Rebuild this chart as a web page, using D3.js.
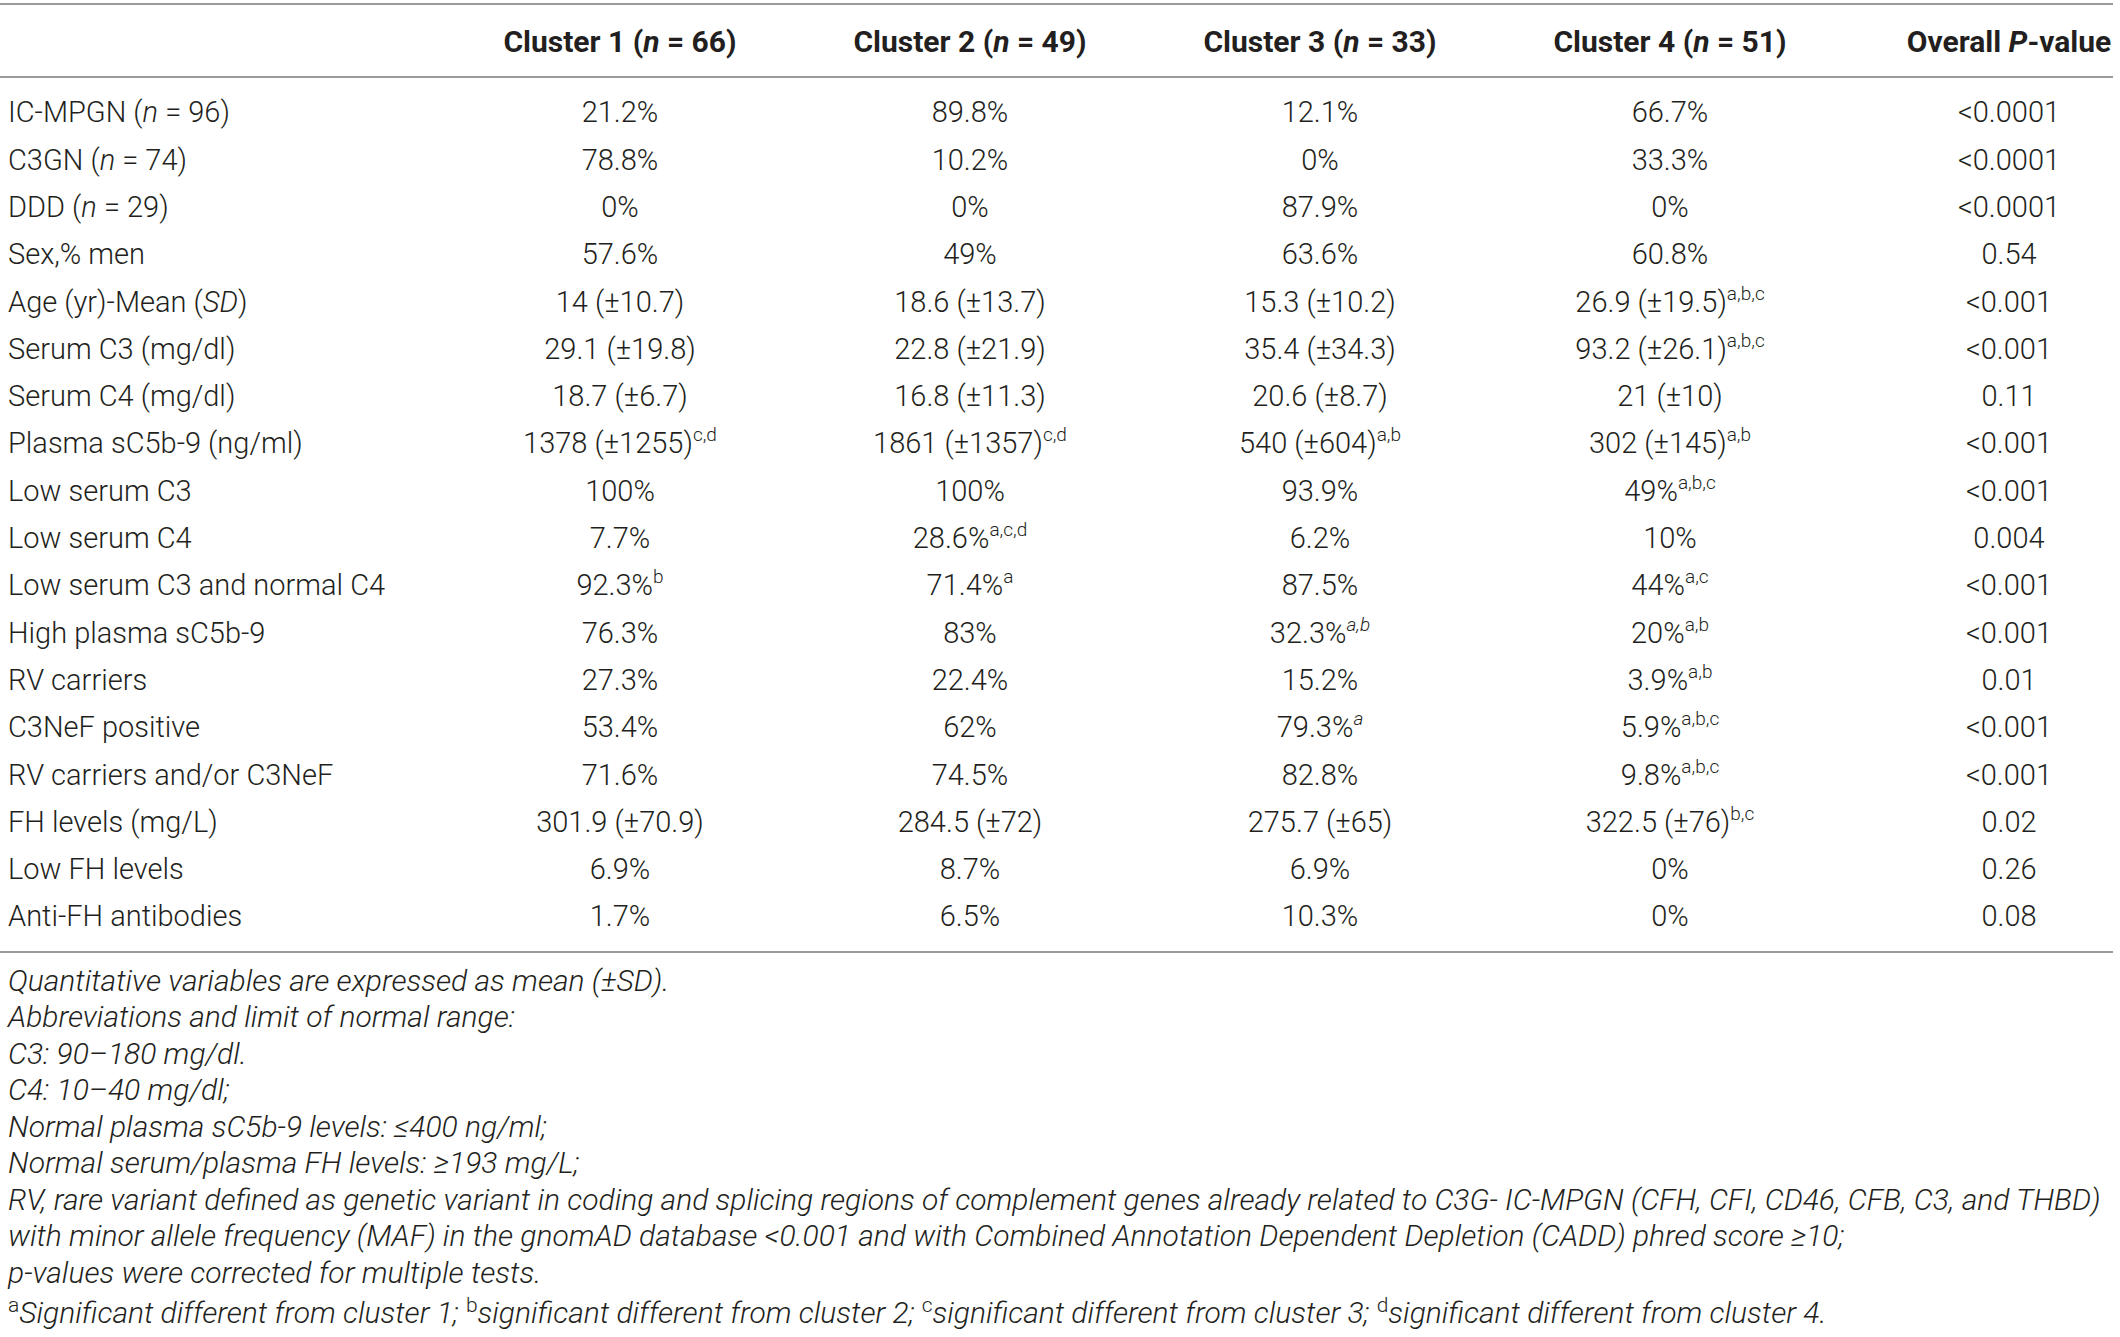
<!DOCTYPE html>
<html>
<head>
<meta charset="utf-8">
<script src="https://cdn.jsdelivr.net/npm/d3@7"></script>
<style>
  body { margin: 0; background: #fff; }
  text { fill: #231f20; }
</style>
</head>
<body>
<div id="chart"></div>
<script>
// 表头
const headers = ['Cluster 1 (*n* = 66)', 'Cluster 2 (*n* = 49)', 'Cluster 3 (*n* = 33)', 'Cluster 4 (*n* = 51)'];
const pHeader = 'Overall *P*-value';

// 行标签
const rowLabels = [
    'IC-MPGN (*n* = 96)', 'C3GN (*n* = 74)', 'DDD (*n* = 29)', 'Sex,% men',
    'Age (yr)-Mean (*SD*)', 'Serum C3 (mg/dl)', 'Serum C4 (mg/dl)', 'Plasma sC5b-9 (ng/ml)',
    'Low serum C3', 'Low serum C4', 'Low serum C3 and normal C4', 'High plasma sC5b-9',
    'RV carriers', 'C3NeF positive', 'RV carriers and/or C3NeF', 'FH levels (mg/L)',
    'Low FH levels', 'Anti-FH antibodies'
];

// 各簇数值 (^...^ 上标, ^*...*^ 斜体上标)
const cluster1 = ['21.2%', '78.8%', '0%', '57.6%', '14 (±10.7)', '29.1 (±19.8)', '18.7 (±6.7)', '1378 (±1255)^c,d^',
    '100%', '7.7%', '92.3%^b^', '76.3%', '27.3%', '53.4%', '71.6%', '301.9 (±70.9)', '6.9%', '1.7%'];
const cluster2 = ['89.8%', '10.2%', '0%', '49%', '18.6 (±13.7)', '22.8 (±21.9)', '16.8 (±11.3)', '1861 (±1357)^c,d^',
    '100%', '28.6%^a,c,d^', '71.4%^a^', '83%', '22.4%', '62%', '74.5%', '284.5 (±72)', '8.7%', '6.5%'];
const cluster3 = ['12.1%', '0%', '87.9%', '63.6%', '15.3 (±10.2)', '35.4 (±34.3)', '20.6 (±8.7)', '540 (±604)^a,b^',
    '93.9%', '6.2%', '87.5%', '32.3%^*a,b*^', '15.2%', '79.3%^*a*^', '82.8%', '275.7 (±65)', '6.9%', '10.3%'];
const cluster4 = ['66.7%', '33.3%', '0%', '60.8%', '26.9 (±19.5)^a,b,c^', '93.2 (±26.1)^a,b,c^', '21 (±10)', '302 (±145)^a,b^',
    '49%^a,b,c^', '10%', '44%^a,c^', '20%^a,b^', '3.9%^a,b^', '5.9%^a,b,c^', '9.8%^a,b,c^', '322.5 (±76)^b,c^', '0%', '0%'];
const pValues = ['<0.0001', '<0.0001', '<0.0001', '0.54', '<0.001', '<0.001', '0.11', '<0.001',
    '<0.001', '0.004', '<0.001', '<0.001', '0.01', '<0.001', '<0.001', '0.02', '0.26', '0.08'];

// 脚注
const footnotes = [
    'Quantitative variables are expressed as mean (±SD).',
    'Abbreviations and limit of normal range:',
    'C3: 90–180 mg/dl.',
    'C4: 10–40 mg/dl;',
    'Normal plasma sC5b-9 levels: ≤400 ng/ml;',
    'Normal serum/plasma FH levels: ≥193 mg/L;',
    'RV, rare variant defined as genetic variant in coding and splicing regions of complement genes already related to C3G- IC-MPGN (CFH, CFI, CD46, CFB, C3, and THBD)',
    'with minor allele frequency (MAF) in the gnomAD database <0.001 and with Combined Annotation Dependent Depletion (CADD) phred score ≥10;',
    'p-values were corrected for multiple tests.'
];
const sigNotes = [
    ['a', 'Significant different from cluster 1; '],
    ['b', 'significant different from cluster 2; '],
    ['c', 'significant different from cluster 3; '],
    ['d', 'significant different from cluster 4.']
];

const width = 2120, height = 1337;
const font = 'Roboto, "Liberation Sans", Arial, sans-serif';
const fontSize = 29;
const headSize = 30;
const footSize = 30;

const svg = d3.select('#chart')
    .append('svg')
    .attr('width', width)
    .attr('height', height)
    .style('font-family', font);

svg.append('rect').attr('width', width).attr('height', height).attr('fill', '#fff');

// 比例尺
const x = d3.scalePoint().domain(headers).range([620, 1670]);
const pX = 2009;
const y = d3.scalePoint().domain(rowLabels).range([112, 916]);

// 解析简单标记: *斜体*, ^上标^
function rich(sel, str, size) {
    const parts = str.split(/(\^[^^]+\^|\*[^*]+\*)/).filter(s => s.length);
    parts.forEach(p => {
        if (p.startsWith('^')) {
            let inner = p.slice(1, -1);
            let it = false;
            if (inner.startsWith('*')) { inner = inner.slice(1, -1); it = true; }
            sel.append('tspan')
                .attr('baseline-shift', Math.round(size * 0.42))
                .attr('font-size', Math.round(size * 0.64))
                .attr('font-style', it ? 'italic' : null)
                .text(inner);
        } else if (p.startsWith('*')) {
            sel.append('tspan').attr('font-style', 'italic').text(p.slice(1, -1));
        } else {
            sel.append('tspan').text(p);
        }
    });
}

// 横线
const rules = [4, 77, 952];
svg.append('g')
    .selectAll('line')
    .data(rules)
    .enter()
    .append('line')
    .attr('x1', 0)
    .attr('x2', 2113)
    .attr('y1', d => d)
    .attr('y2', d => d)
    .attr('stroke', '#9a9a9a')
    .attr('stroke-width', 2);

// 表头
const head = svg.append('g')
    .attr('font-size', headSize)
    .attr('font-weight', 700);
head.selectAll('text')
    .data(headers)
    .enter()
    .append('text')
    .attr('x', d => x(d))
    .attr('y', 41)
    .attr('dy', '0.36em')
    .attr('text-anchor', 'middle')
    .each(function (d) { rich(d3.select(this), d, headSize); });
head.append('text')
    .attr('x', pX)
    .attr('y', 41)
    .attr('dy', '0.36em')
    .attr('text-anchor', 'middle')
    .each(function () { rich(d3.select(this), pHeader, headSize); });

// 表体
const body = svg.append('g')
    .attr('font-size', fontSize)
    .attr('font-weight', 300);

body.selectAll('text.label')
    .data(rowLabels)
    .enter()
    .append('text')
    .attr('class', 'label')
    .attr('x', 8)
    .attr('y', d => y(d))
    .attr('dy', '0.36em')
    .each(function (d) { rich(d3.select(this), d, fontSize); });

const columns = [cluster1, cluster2, cluster3, cluster4];
columns.forEach((col, ci) => {
    body.append('g')
        .selectAll('text')
        .data(col)
        .enter()
        .append('text')
        .attr('x', x(headers[ci]))
        .attr('y', (d, i) => y(rowLabels[i]))
        .attr('dy', '0.36em')
        .attr('text-anchor', 'middle')
        .each(function (d) { rich(d3.select(this), d, fontSize); });
});

body.append('g')
    .selectAll('text')
    .data(pValues)
    .enter()
    .append('text')
    .attr('x', pX)
    .attr('y', (d, i) => y(rowLabels[i]))
    .attr('dy', '0.36em')
    .attr('text-anchor', 'middle')
    .text(d => d);

// 脚注
const fy = d3.scalePoint().domain(d3.range(footnotes.length)).range([980, 1272]);
const foot = svg.append('g')
    .attr('font-size', footSize)
    .attr('font-weight', 300)
    .attr('font-style', 'italic');
foot.selectAll('text')
    .data(footnotes)
    .enter()
    .append('text')
    .attr('x', 8)
    .attr('y', (d, i) => fy(i))
    .attr('dy', '0.36em')
    .text(d => d);

const sig = foot.append('text')
    .attr('x', 8)
    .attr('y', 1312)
    .attr('dy', '0.36em');
sigNotes.forEach(([s, t]) => {
    sig.append('tspan')
        .attr('font-style', 'normal')
        .attr('baseline-shift', Math.round(footSize * 0.36))
        .attr('font-size', Math.round(footSize * 0.7))
        .text(s);
    sig.append('tspan').text(t);
});
</script>
</body>
</html>
